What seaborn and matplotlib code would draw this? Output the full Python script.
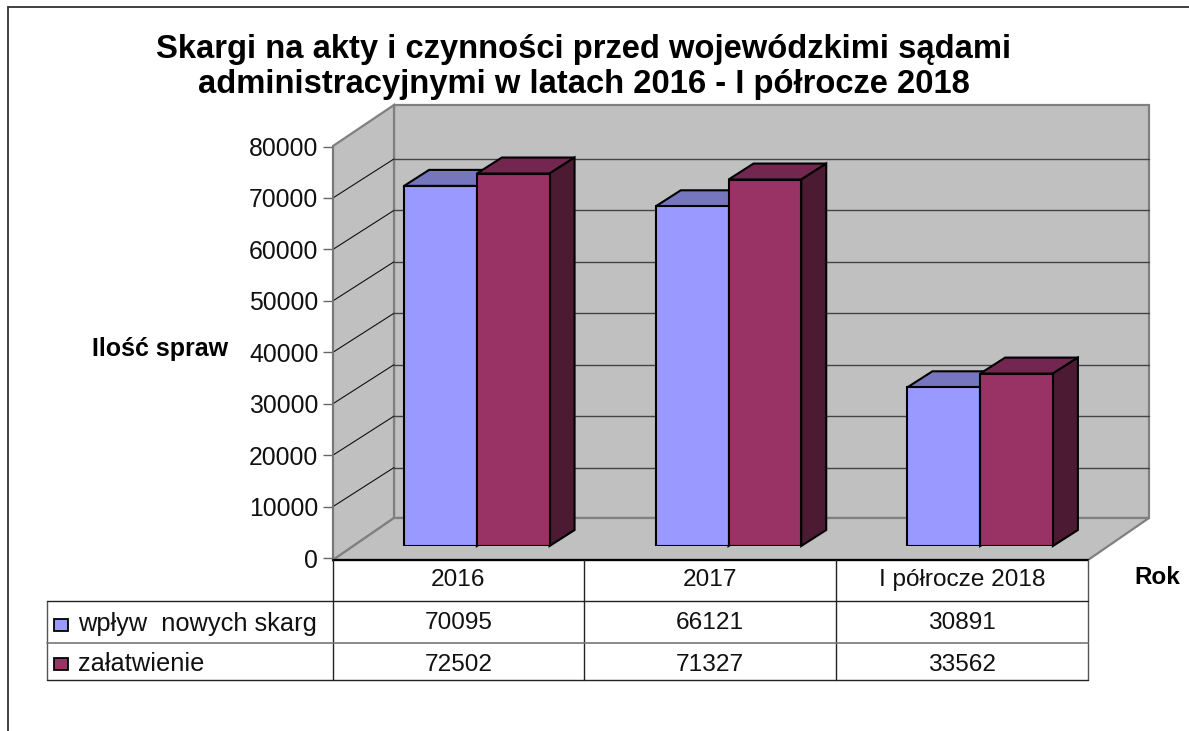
import pandas as pd
import matplotlib.pyplot as plt
import seaborn as sns

years = ['2016', '2017', 'I półrocze 2018']
wplyw = [70095, 66121, 30891]
zalatwienie = [72502, 71327, 33562]
series_names = ['wpływ  nowych skarg', 'załatwienie']
yticks = [0, 10000, 20000, 30000, 40000, 50000, 60000, 70000, 80000]

W, H = 1189, 731
YMAX = 80000
BLUE, MAROON = '#9999FF', '#993366'
TOP_COLORS = {BLUE: '#7676BE', MAROON: '#732650'}
SIDE_COLORS = {BLUE: '#4D4D80', MAROON: '#4D1A33'}

sns.set_theme(style='white')
plt.rcParams['font.family'] = ['Liberation Sans', 'DejaVu Sans']

df = pd.DataFrame({
    'rok': years * 2,
    'seria': [series_names[0]] * 3 + [series_names[1]] * 3,
    'wartosc': wplyw + zalatwienie,
})

fig = plt.figure(figsize=(W / 100, H / 100), dpi=100, facecolor='white')


def px_axes(x0, y0, x1, y1, zorder):
    return fig.add_axes([x0 / W, 1 - y1 / H, (x1 - x0) / W, (y1 - y0) / H], zorder=zorder)


# tlo w pikselach: sciany, podloga, tabela, napisy
bg = px_axes(0, 0, W, H, 0)
bg.set_xlim(0, W)
bg.set_ylim(H, 0)
bg.axis('off')

# ramka wykresu (tylko gora i lewa strona)
bg.plot([8, W], [6.5, 6.5], color='#333333', lw=1.3)
bg.plot([8, 8], [6.5, H], color='#333333', lw=1.3)

# sciany 3D
X0, X1, Y0, Y1 = 333, 1088, 560, 146
DX, DY = 61, 42
wall = '#C0C0C0'
edge = '#808080'
bg.fill([X0 + DX, X1 + DX, X1 + DX, X0 + DX], [Y1 - DY + 1, Y1 - DY + 1, Y0 - DY, Y0 - DY],
        facecolor=wall, edgecolor=edge, lw=1.6)
bg.fill([X0, X0 + DX, X0 + DX, X0], [Y1, Y1 - DY + 1, Y0 - DY, Y0],
        facecolor=wall, edgecolor=edge, lw=1.6)
bg.fill([X0, X0 + DX, X1 + DX, X1], [Y0, Y0 - DY, Y0 - DY, Y0],
        facecolor=wall, edgecolor=edge, lw=1.6)

# linie siatki na scianach
TICK_Y0, TICK_H = 558, 411.5
for v in yticks[1:-1]:
    y = TICK_Y0 - v / YMAX * TICK_H
    bg.plot([X0, X0 + DX], [y, y - 39], color='#111111', lw=0.8)
    bg.plot([X0 + DX, X1 + DX], [y - 39, y - 39], color='#444444', lw=1)
bg.plot([X0, X1], [Y0, Y0], color='black', lw=1.6)

# tabela danych
cols = [333, 584, 836, 1088]
for i, x in enumerate(cols):
    bg.plot([x, x], [560, 680], color='#222222' if i < 3 else '#555555', lw=1)
bg.plot([47, 47], [601, 680], color='#555555', lw=1)
bg.plot([47, 1088], [601, 601], color='#222222', lw=1)
bg.plot([47, 1088], [643, 643], color='#777777', lw=1.2)
bg.plot([47, 1088], [680, 680], color='#222222', lw=1)

fs = 17.6
for i, rok in enumerate(years):
    xc = (cols[i] + cols[i + 1]) / 2
    bg.text(xc, 580, rok, ha='center', va='center', fontsize=fs, color='#111111')
    bg.text(xc, 623, str(wplyw[i]), ha='center', va='center', fontsize=fs, color='#111111')
    bg.text(xc, 665, str(zalatwienie[i]), ha='center', va='center', fontsize=fs, color='#111111')

for name, color, y, ty in zip(series_names, [BLUE, MAROON], [625, 664], [624, 664]):
    bg.fill([54, 68, 68, 54], [y - 6, y - 6, y + 6, y + 6], facecolor=color, edgecolor='black', lw=1.3)
    bg.text(78, ty, name, ha='left', va='center', fontsize=18.3, color='#111111')

bg.text(584, 67, 'Skargi na akty i czynności przed wojewódzkimi sądami\n'
        'administracyjnymi w latach 2016 - I półrocze 2018',
        ha='center', va='center', fontsize=23.6, fontweight='bold', color='black', linespacing=1.2)
bg.text(160, 349, 'Ilość spraw', ha='center', va='center', fontsize=18, fontweight='bold', color='black')
bg.text(1157, 578, 'Rok', ha='center', va='center', fontsize=17.5, fontweight='bold', color='black')

# os Y na przedniej plaszczyznie
ax_y = px_axes(X0, TICK_Y0 - TICK_H, X1, TICK_Y0, 1)
ax_y.patch.set_alpha(0)
ax_y.set_ylim(0, YMAX)
ax_y.set_xticks([])
ax_y.set_yticks(yticks)
ax_y.tick_params(axis='y', left=True, length=7, width=1, color='#666666', pad=3.6,
                 labelsize=17.8, labelcolor='#111111')
sns.despine(ax=ax_y, top=True, right=True, bottom=True, left=False)
ax_y.spines['left'].set_color('#777777')
ax_y.spines['left'].set_linewidth(1.2)

# slupki
ax = px_axes(351, 135, 1106, 546, 2)
sns.barplot(data=df, x='rok', y='wartosc', hue='seria', order=years, hue_order=series_names,
            palette=[BLUE, MAROON], saturation=1, width=0.578, gap=0, dodge=True,
            edgecolor='black', linewidth=1.5, legend=False, ax=ax, zorder=5)
ax.set_xlim(-0.5, 2.5)
ax.set_ylim(0, YMAX)
ax.axis('off')

# boki i wierzch slupkow liczone z polozenia prostokatow
dx = 25 / 755 * 3
dy = 16 / 411 * YMAX
colors = [BLUE] * 3 + [MAROON] * 3
order = [0, 3, 1, 4, 2, 5]
for k, idx in enumerate(order):
    p = ax.patches[idx]
    c = colors[idx]
    x0, x1 = p.get_x(), p.get_x() + p.get_width()
    h = p.get_height()
    ax.fill([x0, x0 + dx, x1 + dx, x1], [h, h + dy, h + dy, h], facecolor=TOP_COLORS[c],
            edgecolor='black', lw=1.5, zorder=2 + k * 0.1, clip_on=False)
    ax.fill([x1, x1 + dx, x1 + dx, x1], [0, dy, h + dy, h], facecolor=SIDE_COLORS[c],
            edgecolor='black', lw=1.5, zorder=2 + k * 0.1, clip_on=False)

fig.savefig('out.png', dpi=100, facecolor='white')
plt.close(fig)
